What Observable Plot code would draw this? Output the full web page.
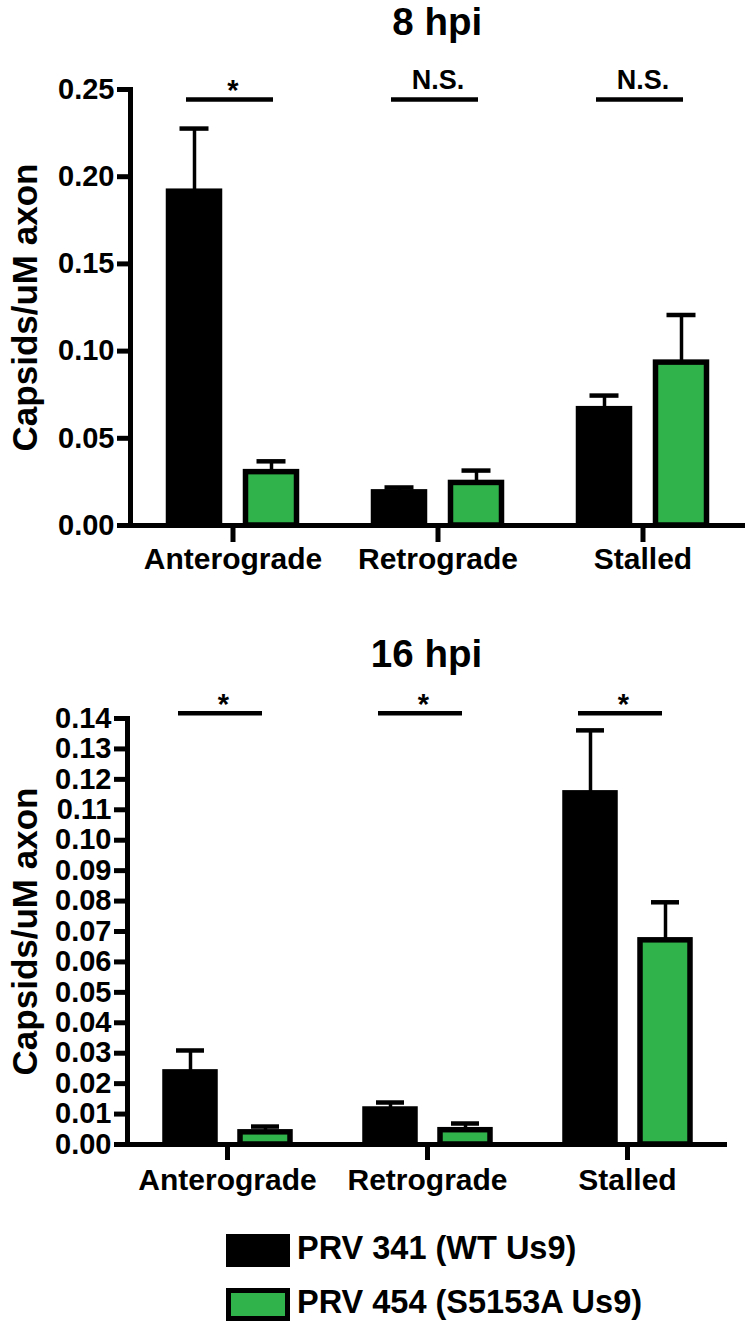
<!DOCTYPE html>
<html>
<head>
<meta charset="utf-8">
<script src="https://cdn.jsdelivr.net/npm/d3@7"></script>
<script src="https://cdn.jsdelivr.net/npm/@observablehq/plot@0.6"></script>
<style>
  body { margin: 0; background: #fff; }
  #page { position: relative; width: 753px; height: 1321px; overflow: hidden; background: #fff; }
  .title { position: absolute; z-index: 2; text-align: center; font-family: 'Liberation Sans', Arial, sans-serif; font-weight: bold; font-size: 38.5px; line-height: 42px; color: #000; }
  .chart { position: absolute; left: 0; z-index: 1; }
  .sw { position: absolute; box-sizing: border-box; width: 64px; height: 33px; }
  .lt { position: absolute; font-family: 'Liberation Sans', Arial, sans-serif; font-weight: bold; font-size: 32.5px; line-height: 33px; color: #000; white-space: nowrap; }
</style>
</head>
<body>
<div id="page"></div>
<script>
// ---- data ----
const categories = ["Anterograde", "Retrograde", "Stalled"];
const series = ["PRV 341 (WT Us9)", "PRV 454 (S5153A Us9)"];
const seriesColors = ["#000000", "#31b34b"];

// 8 hpi
const wt8 = [0.1914, 0.0190, 0.0667];
const wt8Err = [0.0362, 0.0028, 0.0078];
const mut8 = [0.0306, 0.0244, 0.0934];
const mut8Err = [0.0062, 0.0071, 0.0273];
const sig8 = ["*", "N.S.", "N.S."];
const yTicks8 = [0, 0.05, 0.10, 0.15, 0.20, 0.25];

// 16 hpi
const wt16 = [0.0237, 0.0115, 0.1154];
const wt16Err = [0.0072, 0.0023, 0.0207];
const mut16 = [0.0040, 0.0047, 0.0671];
const mut16Err = [0.0019, 0.0022, 0.0125];
const sig16 = ["*", "*", "*"];
const yTicks16 = [0, 0.01, 0.02, 0.03, 0.04, 0.05, 0.06, 0.07, 0.08, 0.09, 0.10, 0.11, 0.12, 0.13, 0.14];

const titles = ["8 hpi", "16 hpi"];
const yLabel = "Capsids/uM axon";

const FONT = "'Liberation Sans', Arial, sans-serif";

function buildRows(wt, wtErr, mut, mutErr) {
  const rows = [];
  categories.forEach((c, i) => {
    rows.push({cat: c, series: series[0], value: wt[i], err: wtErr[i]});
    rows.push({cat: c, series: series[1], value: mut[i], err: mutErr[i]});
  });
  return rows;
}

function makeChart(cfg) {
  const rows = buildRows(cfg.wt, cfg.wtErr, cfg.mut, cfg.mutErr);
  const sigRows = categories.map((c, i) => ({cat: c, label: cfg.sig[i]}));
  return Plot.plot({
    width: 753,
    height: cfg.height,
    marginTop: cfg.marginTop,
    marginBottom: cfg.marginBottom,
    marginLeft: cfg.marginLeft,
    marginRight: cfg.marginRight,
    style: {fontFamily: FONT, background: "transparent", overflow: "visible", color: "black"},
    fx: {domain: categories, padding: 0},
    x: {domain: series, paddingInner: 0.26, paddingOuter: 0.46, axis: null},
    y: {domain: [0, cfg.yMax]},
    color: {domain: series, range: seriesColors},
    marks: [
      Plot.ruleX(rows, {fx: "cat", x: "series", y1: "value", y2: d => d.value + d.err, stroke: "black", strokeWidth: 3.5}),
      Plot.tickY(rows, {fx: "cat", x: "series", y: d => d.value + d.err, stroke: "black", strokeWidth: 4.5, insetLeft: 14, insetRight: 14}),
      Plot.barY(rows, {fx: "cat", x: "series", y: "value", fill: "series", stroke: "black", strokeWidth: 5.5, insetLeft: 3, insetRight: 3}),
      Plot.ruleY([0], {stroke: "black", strokeWidth: 5, insetLeft: -2.5}),
      Plot.frame({anchor: "left", facet: "super", stroke: "black", strokeWidth: 5}),
      Plot.ruleY(sigRows, {fx: "cat", y: () => cfg.bracketY, stroke: "black", strokeWidth: 4.5, insetLeft: cfg.bL, insetRight: cfg.bR}),
      Plot.text(sigRows.filter(d => d.label === "*"), {fx: "cat", y: () => cfg.bracketY, text: "label", lineAnchor: "bottom", dy: 1, dx: cfg.sdx, fontSize: 29, fontWeight: "bold", fill: "black"}),
      Plot.text(sigRows.filter(d => d.label !== "*"), {fx: "cat", y: () => cfg.bracketY, text: "label", lineAnchor: "bottom", dy: -10, dx: cfg.sdx, fontSize: 27, fontWeight: "bold", fill: "black"}),
      Plot.axisY({ticks: cfg.ticks, tickFormat: d3.format(".2f"), tickSize: 13, tickPadding: 3, strokeWidth: 5, label: null, fontSize: 29, fontWeight: "bold"}),
      Plot.axisY({ticks: [], tickSize: 0, label: yLabel, labelAnchor: "center", labelArrow: "none", labelOffset: cfg.labelOffset, fontSize: 35, fontWeight: "bold"}),
      Plot.axisFx({anchor: "bottom", tickSize: cfg.fxTick, tickPadding: cfg.fxPad, strokeWidth: 5, fontSize: 30, fontWeight: "bold", label: null})
    ]
  });
}

const page = document.getElementById("page");

function addTitle(text, top, left, width) {
  const t = document.createElement("div");
  t.className = "title";
  t.textContent = text;
  t.style.top = top + "px";
  t.style.left = left + "px";
  t.style.width = width + "px";
  page.appendChild(t);
}

// top chart
addTitle(titles[0], 1, 129.5, 615.5);
const c1 = makeChart({
  wt: wt8, wtErr: wt8Err, mut: mut8, mutErr: mut8Err, sig: sig8, ticks: yTicks8, yMax: 0.25,
  height: 545, marginTop: 49, marginBottom: 60, marginLeft: 129.5, marginRight: 8,
  bracketY: 0.2443, bL: 56, bR: 62, sdx: 0, labelOffset: 118, fxTick: 17, fxPad: 5
});
c1.classList.add("chart");
c1.style.top = "40px";
page.appendChild(c1);

// bottom chart
addTitle(titles[1], 633, 126, 601);
const c2 = makeChart({
  wt: wt16, wtErr: wt16Err, mut: mut16, mutErr: mut16Err, sig: sig16, ticks: yTicks16, yMax: 0.14,
  height: 534, marginTop: 48, marginBottom: 60, marginLeft: 126, marginRight: 26,
  bracketY: 0.1417, bL: 51, bR: 65, sdx: -4, labelOffset: 115, fxTick: 16, fxPad: 8
});
c2.classList.add("chart");
c2.style.top = "670px";
page.appendChild(c2);

// legend
const legTops = [1234, 1288];
series.forEach((s, i) => {
  const sw = document.createElement("div");
  sw.className = "sw";
  sw.style.left = "226px";
  sw.style.top = legTops[i] + "px";
  sw.style.background = seriesColors[i];
  sw.style.border = "5px solid #000";
  page.appendChild(sw);
  const lt = document.createElement("div");
  lt.className = "lt";
  lt.textContent = s;
  lt.style.left = "297px";
  lt.style.top = (legTops[i] - 2) + "px";
  page.appendChild(lt);
});
</script>
</body>
</html>
